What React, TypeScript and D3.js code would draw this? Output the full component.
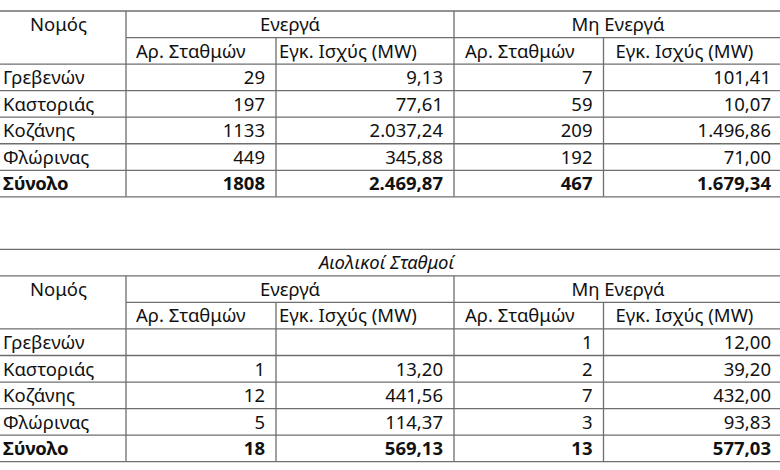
import React from "react";
import * as d3 from "d3";

// ---- data ----
const prefectures = ["Γρεβενών", "Καστοριάς", "Κοζάνης", "Φλώρινας"];
const totalLabel = "Σύνολο";
const firstHeader = "Νομός";
const groupHeaders = ["Ενεργά", "Μη Ενεργά"];
const subHeaders = ["Αρ. Σταθμών", "Εγκ. Ισχύς (MW)", "Αρ. Σταθμών", "Εγκ. Ισχύς (MW)"];
const windTitle = "Αιολικοί Σταθμοί";

// table 1 (all stations)
const t1ActiveCount: (number | null)[] = [29, 197, 1133, 449];
const t1ActivePower: (number | null)[] = [9.13, 77.61, 2037.24, 345.88];
const t1InactiveCount: (number | null)[] = [7, 59, 209, 192];
const t1InactivePower: (number | null)[] = [101.41, 10.07, 1496.86, 71.0];
const t1Totals = [1808, 2469.87, 467, 1679.34];

// table 2 (wind stations)
const t2ActiveCount: (number | null)[] = [null, 1, 12, 5];
const t2ActivePower: (number | null)[] = [null, 13.2, 441.56, 114.37];
const t2InactiveCount: (number | null)[] = [1, 2, 7, 3];
const t2InactivePower: (number | null)[] = [12.0, 39.2, 432.0, 93.83];
const t2Totals = [18, 569.13, 13, 577.03];

// ---- layout ----
const W = 780;
const H = 470;
const colEdges = [-9, 126, 276, 454, 603.5, 782];
const subHeaderPad = [10, 3, 11, 12];
const numPad = 11;
const rowH = 26.55;
const FONT = "'Noto Sans', 'DejaVu Sans', sans-serif";
const FS = 18.5;
const LINE = "#6e6e6e";
const TEXT = "#111";

const loc = d3.formatLocale({ decimal: ",", thousands: ".", grouping: [3], currency: ["", "€"] });
const fmtCount = loc.format("d");
const fmtPower = loc.format(",.2f");
const fmts = [fmtCount, fmtPower, fmtCount, fmtPower];

type Props = {
  top: number;
  title?: string;
  cols: (number | null)[][];
  totals: number[];
};

function Table({ top, title, cols, totals }: Props) {
  const off = title ? 1 : 0;
  const nRows = off + 2 + prefectures.length + 1;
  const y = d3.scaleLinear().domain([0, 1]).range([top, top + rowH]);
  const x0 = colEdges[0];
  const xEnd = colEdges[colEdges.length - 1];
  const base = (i: number) => y(i + 1) - 6.5;
  const lines: React.ReactNode[] = [];
  lines.push(<line key="h0" x1={x0} x2={xEnd} y1={y(0)} y2={y(0)} />);
  if (title) lines.push(<line key="ht" x1={x0} x2={xEnd} y1={y(1)} y2={y(1)} />);
  lines.push(
    <line key="hg" x1={colEdges[1]} x2={xEnd} y1={y(off + 1)} y2={y(off + 1)} />
  );
  for (let i = off + 2; i <= nRows; i++) {
    lines.push(<line key={"h" + i} x1={x0} x2={xEnd} y1={y(i)} y2={y(i)} />);
  }
  colEdges.forEach((cx, j) => {
    const startRow = j === 2 || j === 4 ? off + 1 : off;
    lines.push(<line key={"v" + j} x1={cx} x2={cx} y1={y(startRow)} y2={y(nRows)} />);
  });

  const texts: React.ReactNode[] = [];
  if (title) {
    texts.push(
      <text key="title" x={(x0 + xEnd) / 2} y={base(0)} textAnchor="middle" fontStyle="italic">
        {title}
      </text>
    );
  }
  texts.push(
    <text key="nomos" x={(colEdges[0] + colEdges[1]) / 2} y={base(off)} textAnchor="middle">
      {firstHeader}
    </text>
  );
  groupHeaders.forEach((g, k) => {
    const a = colEdges[1 + 2 * k];
    const b = colEdges[3 + 2 * k];
    texts.push(
      <text key={"g" + k} x={(a + b) / 2} y={base(off)} textAnchor="middle">
        {g}
      </text>
    );
  });
  subHeaders.forEach((s, j) => {
    texts.push(
      <text key={"s" + j} x={colEdges[j + 1] + subHeaderPad[j]} y={base(off + 1)}>
        {s}
      </text>
    );
  });
  prefectures.forEach((p, i) => {
    const r = off + 2 + i;
    texts.push(
      <text key={"p" + i} x={3} y={base(r)}>
        {p}
      </text>
    );
    cols.forEach((c, j) => {
      const v = c[i];
      if (v === null) return;
      texts.push(
        <text key={"c" + i + "-" + j} x={colEdges[j + 2] - numPad} y={base(r)} textAnchor="end">
          {fmts[j](v)}
        </text>
      );
    });
  });
  const rt = off + 2 + prefectures.length;
  texts.push(
    <text key="tl" x={3} y={base(rt)} fontWeight="bold">
      {totalLabel}
    </text>
  );
  totals.forEach((v, j) => {
    texts.push(
      <text key={"t" + j} x={colEdges[j + 2] - numPad} y={base(rt)} textAnchor="end" fontWeight="bold">
        {fmts[j](v)}
      </text>
    );
  });

  return (
    <g>
      <g stroke={LINE} strokeWidth={1.3}>{lines}</g>
      <g fill={TEXT} fontFamily={FONT} fontSize={FS}>{texts}</g>
    </g>
  );
}

export default function App() {
  return (
    <svg
      width={W}
      height={H}
      viewBox={`0 0 ${W} ${H}`}
      style={{ position: "fixed", left: 0, top: 0, background: "#fff" }}
    >
      <rect x={0} y={0} width={W} height={H} fill="#fff" />
      <Table
        top={11}
        cols={[t1ActiveCount, t1ActivePower, t1InactiveCount, t1InactivePower]}
        totals={t1Totals}
      />
      <Table
        top={249.3}
        title={windTitle}
        cols={[t2ActiveCount, t2ActivePower, t2InactiveCount, t2InactivePower]}
        totals={t2Totals}
      />
    </svg>
  );
}
